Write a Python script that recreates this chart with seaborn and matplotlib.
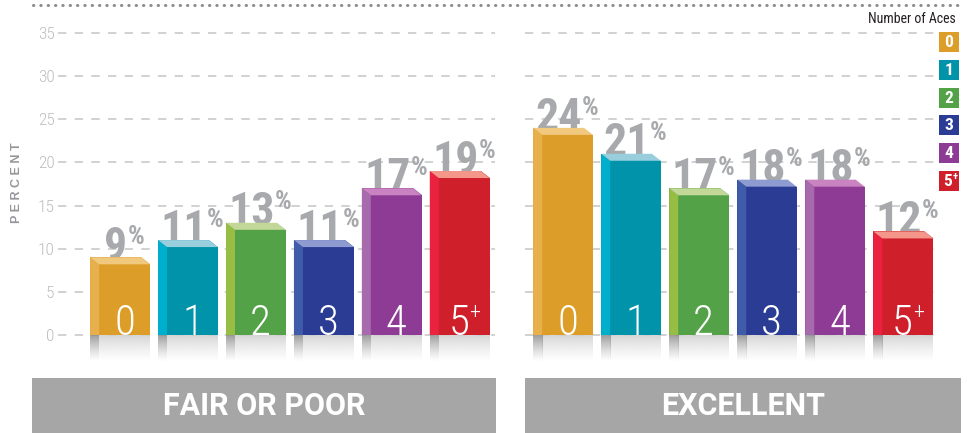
import numpy as np
import pandas as pd
import matplotlib
matplotlib.use("Agg")
import matplotlib.pyplot as plt
import seaborn as sns
from matplotlib.patches import Polygon, Rectangle
from matplotlib.offsetbox import TextArea, HPacker, AnnotationBbox
from matplotlib.lines import Line2D
from matplotlib import font_manager

# ---------------- data ----------------
categories = ["0", "1", "2", "3", "4", "5+"]
fair_poor = [9, 11, 13, 11, 17, 19]
excellent = [24, 21, 17, 18, 18, 12]
panel_titles = ["FAIR OR POOR", "EXCELLENT"]
yticks = [0, 5, 10, 15, 20, 25, 30, 35]
legend_title = "Number of Aces"
ylabel = "PERCENT"

front_colors = ["#DC9E28", "#0093A9", "#53A247", "#2A3C94", "#8D3B95", "#CE1F2B"]
side_colors = ["#E8B04C", "#00AFCB", "#98BD45", "#3F5BA9", "#A76AAC", "#EB2140"]
top_colors = ["#F0C97E", "#99CEDD", "#C3D898", "#8E9BD0", "#C983C0", "#F4978A"]

# ---------------- style ----------------
sns.set_style("white")
avail = {f.name for f in font_manager.fontManager.ttflist}


def pick(*names):
    for n in names:
        if n in avail:
            return n
    return "DejaVu Sans"


NARROW = pick("Liberation Sans Narrow", "Roboto Condensed", "Liberation Sans")
BOLDFONT = pick("Roboto", "Liberation Sans")
plt.rcParams["font.family"] = [NARROW, "DejaVu Sans"]

W, H = 967, 433
LABEL_GRAY = "#A7A9AC"
TICK_GRAY = "#BCBEC0"
GRID_GRAY = "#C9C9C9"
BOX_GRAY = "#A6A6A6"

fig = plt.figure(figsize=(W / 100, H / 100), dpi=100)
fig.patch.set_facecolor("white")


def px_rect(l, t, r, b):
    return [l / W, 1 - b / H, (r - l) / W, (b - t) / H]


def fx(x):
    return x / W


def fy(y):
    return 1 - y / H


Y0_PX, PX_PER_UNIT = 335.0, 8.63
YMIN, YMAX = -3.5, 36.5
ax_top = Y0_PX - YMAX * PX_PER_UNIT
ax_bot = Y0_PX - YMIN * PX_PER_UNIT

panels = [
    dict(values=fair_poor, l=58, r=495, xlim=(-0.913, 5.52), ticks=True,
         box=(32, 496), title=panel_titles[0]),
    dict(values=excellent, l=525, r=940, xlim=(-0.56, 5.54), ticks=False,
         box=(525, 961), title=panel_titles[1]),
]

DX = 9 / 68.0           # 3D depth in category units
DY = 7 / PX_PER_UNIT    # 3D depth in value units
REFL = 3.1              # reflection depth


def gradient_img(rgb, a0):
    n = 60
    img = np.zeros((n, 2, 4))
    img[..., :3] = matplotlib.colors.to_rgb(rgb)
    img[..., 3] = (np.linspace(1, 0, n) ** 1.3 * a0)[:, None]
    return img


for p in panels:
    ax = fig.add_axes(px_rect(p["l"], ax_top, p["r"], ax_bot))
    df = pd.DataFrame({"aces": categories, "pct": p["values"]})
    sns.barplot(data=df, x="aces", y="pct", hue="aces", order=categories,
                hue_order=categories, palette=front_colors, width=0.88,
                saturation=1, errorbar=None, legend=False, ax=ax, zorder=3,
                linewidth=0)
    bars = sorted(ax.patches, key=lambda b: b.get_x())
    for i, b in enumerate(bars):
        x0, w, v = b.get_x(), b.get_width(), b.get_height()
        x1 = x0 + w
        # side face
        ax.add_patch(Polygon([(x0, v), (x0 + DX, v - DY), (x0 + DX, 0), (x0, 0)],
                             closed=True, fc=side_colors[i], ec="none", zorder=3.1))
        # top face
        ax.add_patch(Polygon([(x0, v), (x1 - DX, v), (x1, v - DY), (x0 + DX, v - DY)],
                             closed=True, fc=top_colors[i], ec="none", zorder=3.1))
        ax.add_patch(Polygon([(x1 - DX, v), (x1, v), (x1, v - DY)],
                             closed=True, fc="white", ec="none", zorder=3.1))
        # reflection
        ax.imshow(gradient_img("#CFCFCF", 0.85), extent=(x0 + DX, x1, -REFL, 0),
                  aspect="auto", zorder=2.5, interpolation="bilinear")
        ax.imshow(gradient_img("#8C8C8C", 0.85), extent=(x0, x0 + DX, -REFL, 0),
                  aspect="auto", zorder=2.6, interpolation="bilinear")
        # value label
        num = TextArea(str(v if v % 1 else int(v)),
                       textprops=dict(fontsize=33, fontweight="bold", color=LABEL_GRAY,
                                      family=[NARROW, "DejaVu Sans"]))
        pct = TextArea("%", textprops=dict(fontsize=19, fontweight="bold", color=LABEL_GRAY,
                                           family=[NARROW, "DejaVu Sans"]))
        pack = HPacker(children=[num, pct], align="top", pad=0, sep=0)
        ab = AnnotationBbox(pack, (x0 + w / 2 + 0.06, v - 1.35), xycoords="data",
                            box_alignment=(0.5, 0.0), frameon=False, pad=0, zorder=2)
        ax.add_artist(ab)
        # category label inside bar
        cat = categories[i]
        main = cat.rstrip("+")
        kids = [TextArea(main, textprops=dict(fontsize=31, color="white", fontweight="light",
                                              family=[NARROW, "DejaVu Sans"]))]
        if cat.endswith("+"):
            kids.append(TextArea("+", textprops=dict(fontsize=16, color="white",
                                                     fontweight="light",
                                                     family=[NARROW, "DejaVu Sans"])))
        cpack = HPacker(children=kids, align="top", pad=0, sep=0)
        cab = AnnotationBbox(cpack, ((x0 + DX + x1) / 2, -1.05), xycoords="data",
                             box_alignment=(0.5, 0.0), frameon=False, pad=0, zorder=4)
        ax.add_artist(cab)

    ax.set_xlim(*p["xlim"])
    ax.set_ylim(YMIN, YMAX)
    ax.set_yticks(yticks)
    ax.yaxis.grid(True, linestyle=(0, (5, 5)), color=GRID_GRAY, linewidth=1.2)
    ax.xaxis.grid(False)
    ax.set_axisbelow(True)
    for s in ax.spines.values():
        s.set_visible(False)
    ax.set_xticks([])
    ax.set_xlabel("")
    ax.set_ylabel("")
    ax.tick_params(axis="y", length=0, pad=2.5, labelsize=12.5, labelcolor=TICK_GRAY,
                   labelleft=p["ticks"])
    for t in ax.get_yticklabels():
        t.set_family([NARROW, "DejaVu Sans"])
        t.set_fontweight("light")

    # category box under panel
    bl, br = p["box"]
    fig.add_artist(Rectangle((fx(bl), fy(433)), fx(br) - fx(bl), fy(378) - fy(433),
                             transform=fig.transFigure, fc=BOX_GRAY, ec="none"))
    fig.text(fx((bl + br) / 2), fy(406), p["title"], ha="center", va="center",
             color="white", fontsize=22, fontweight="bold",
             family=[BOLDFONT, "DejaVu Sans"])

# y label
fig.text(fx(17), fy(183), " ".join(ylabel), rotation=90, ha="center", va="center",
         fontsize=9, fontweight="bold", color="#95979A",
         family=["Liberation Sans", "DejaVu Sans"])

# top dotted rule
fig.add_artist(Line2D([fx(33), fx(962)], [fy(5), fy(5)], transform=fig.transFigure,
                      color="#8A8C8E", linewidth=2.2, linestyle=(0, (0.1, 2.3)),
                      dash_capstyle="round"))

# legend
fig.text(fx(956), fy(23), legend_title, ha="right", va="baseline", fontsize=10,
         color="#231F20", family=[NARROW, "DejaVu Sans"])
for i, cat in enumerate(categories):
    top = 32 + i * 27.8
    fig.add_artist(Rectangle((fx(939), fy(top + 20)), fx(959) - fx(939), fy(top) - fy(top + 20),
                             transform=fig.transFigure, fc=front_colors[i], ec="none"))
    main = cat.rstrip("+")
    if cat.endswith("+"):
        fig.text(fx(948), fy(top + 10.5), main, ha="center", va="center", fontsize=12.5,
                 fontweight="bold", color="white", family=[NARROW, "DejaVu Sans"])
        fig.text(fx(952.5), fy(top + 6), "+", ha="left", va="center", fontsize=7.5,
                 fontweight="bold", color="white", family=[NARROW, "DejaVu Sans"])
    else:
        fig.text(fx(949), fy(top + 10.5), main, ha="center", va="center", fontsize=12.5,
                 fontweight="bold", color="white", family=[NARROW, "DejaVu Sans"])

fig.savefig("out.png", dpi=100, facecolor="white")
